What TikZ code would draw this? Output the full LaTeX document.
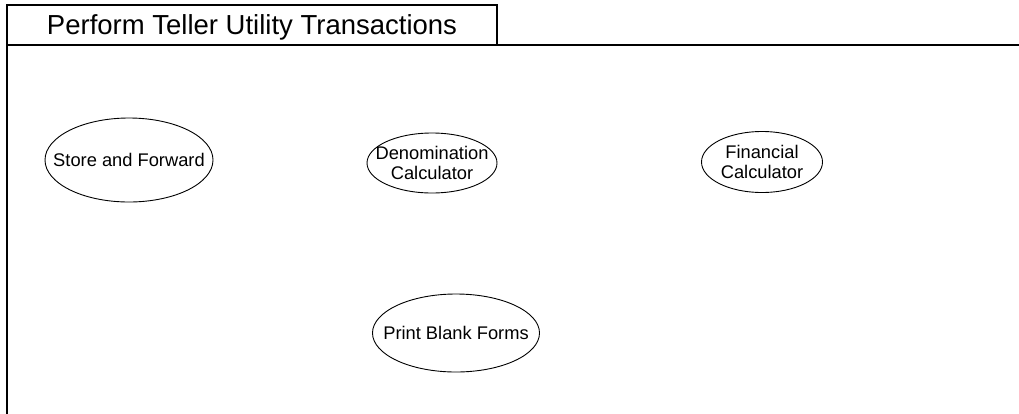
\documentclass[tikz,border=0pt]{standalone}
\usepackage{fontspec}
\setmainfont{Liberation Sans}
\usetikzlibrary{shapes.geometric}
\begin{document}
\begin{tikzpicture}[x=1pt,y=-1pt,
  frameline/.style={line width=1.8pt, line cap=rect},
  tabline/.style={line width=1.1pt},
  usecase/.style={draw, ellipse, line width=0.9pt, inner sep=0pt},
  casetext/.style={inner sep=0pt, align=center,
    font=\fontsize{18.3}{19.5}\selectfont},
  titletext/.style={inner sep=0pt, font=\fontsize{27.5}{30}\selectfont}]
  \useasboundingbox (0,0) rectangle (1019,413);

  % package frame with its name tab
  \draw[tabline] (7,45) -- (7,5) -- (497,5) -- (497,45);
  \draw[frameline] (7,413) -- (7,45) -- (1019,45);
  \node[titletext] (title) at (252,27) {Perform Teller Utility Transactions};

  % use cases: outline first, then the name on top
  \node[usecase, minimum width=168pt, minimum height=84pt] (sf) at (129,160) {};
  \node[casetext] (sft) at (sf.center) {Store and Forward};
  \node[usecase, minimum width=130pt, minimum height=60pt] (dc) at (432,163) {};
  \node[casetext] (dct) at (dc.center) {Denomination\\Calculator};
  \node[usecase, minimum width=121pt, minimum height=61pt] (fc) at (762,162) {};
  \node[casetext] (fct) at (fc.center) {Financial\\Calculator};
  \node[usecase, minimum width=167pt, minimum height=78pt] (pb) at (456,333) {};
  \node[casetext] (pbt) at (pb.center) {Print Blank Forms};
\end{tikzpicture}
\end{document}
